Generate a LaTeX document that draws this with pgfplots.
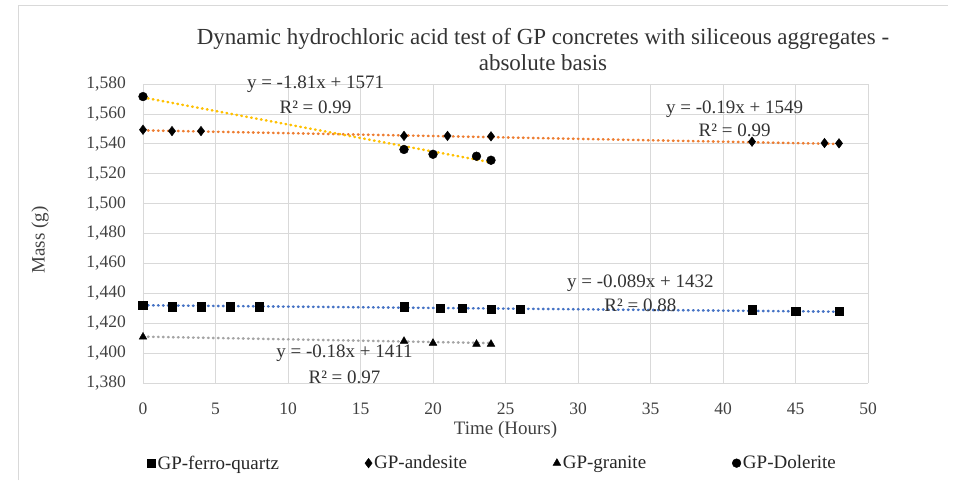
\documentclass[border=0pt]{standalone}
\usepackage{pgfplots}
\pgfplotsset{compat=1.18}
\usepackage{fontspec}
\setmainfont{Liberation Serif}
\definecolor{tblue}{HTML}{4472C4}
\definecolor{torange}{HTML}{ED7D31}
\definecolor{tgray}{HTML}{A5A5A5}
\definecolor{tgold}{HTML}{FFC000}
\definecolor{gridc}{HTML}{D9D9D9}
\begin{document}
\begin{tikzpicture}
\path[use as bounding box] (-143pt,-97pt) rectangle (830pt,383pt);
\draw[gridc, line width=0.8pt] (-125pt,-97pt) -- (-125pt,378pt) -- (805pt,378pt);
\node[anchor=base, font=\fontsize{23}{26}\selectfont, text=black!80, inner sep=0pt] at (400pt,338pt) {Dynamic hydrochloric acid test of GP concretes with siliceous aggregates -};
\node[anchor=base, font=\fontsize{23}{26}\selectfont, text=black!80, inner sep=0pt] at (400pt,312pt) {absolute basis};
\begin{axis}[
  at={(0pt,0pt)}, anchor=south west,
  scale only axis, width=725pt, height=299pt,
  xmin=0, xmax=50, ymin=1380, ymax=1580,
  xtick={0,5,...,50}, ytick={1380,1400,...,1580},
  grid=major, major grid style={gridc, line width=0.7pt},
  axis line style={draw=none}, tick style={draw=none},
  /pgf/number format/assume math mode=true,
  /pgf/number format/.cd, 1000 sep={,}, /pgfplots/.cd,
  tick label style={font=\fontsize{17.5}{20}\selectfont, text=black!75},
  xticklabel style={anchor=base, yshift=-31pt},
  yticklabel style={anchor=east, inner sep=0pt, xshift=-17pt},
  xlabel={Time (Hours)}, ylabel={Mass (g)},
  label style={font=\fontsize{19}{22}\selectfont, text=black!75},
  xlabel style={at={(axis description cs:0.5,-0.157)}, anchor=center},
  ylabel style={at={(axis description cs:-0.142,0.478)}, anchor=center},
  clip=false,
  legend style={at={(0.482,-0.268)}, anchor=center, draw=none, fill=none,
    legend columns=4, font=\fontsize{19}{22}\selectfont, text=black!85,
    /tikz/every even column/.append style={column sep=84pt}},
  legend cell align=left,
  legend image code/.code={\draw[#1] plot coordinates {(0pt,0pt)};},
]
% data
\addplot[only marks, mark=square*, mark size=4.3pt, black] coordinates {
 (0,1432) (2,1431) (4,1431) (6,1431) (8,1431) (18,1431) (20.5,1430) (22,1430) (24,1429.5) (26,1429.5) (42,1429) (45,1428) (48,1428)};
\addlegendentry{GP-ferro-quartz}
\addplot[only marks, mark=diamond*, mark size=4.8pt, black] coordinates {
 (0,1549.4) (2,1548.5) (4,1548.5) (18,1545.3) (21,1545.3) (24,1545) (42,1541.4) (47,1540.5) (48,1540.3)};
\addlegendentry{GP-andesite}
\addplot[only marks, mark=triangle*, mark size=4.5pt, black] coordinates {
 (0,1410.8) (18,1408) (20,1406.7) (23,1406) (24,1406)};
\addlegendentry{GP-granite}
\addplot[only marks, mark=*, mark size=4.4pt, black] coordinates {
 (0,1571.6) (18,1536.2) (20,1533) (23,1531.7) (24,1529)};
\addlegendentry{GP-Dolerite}
% trendlines
\addplot[tblue, line width=2.6pt, line cap=round, dash pattern=on 0.6pt off 4.4pt, forget plot] coordinates {(0,1432) (48,1427.7)};
\addplot[torange, line width=2.6pt, line cap=round, dash pattern=on 0.6pt off 4.4pt, forget plot] coordinates {(0,1549) (48,1539.9)};
\addplot[tgray, line width=2.6pt, line cap=round, dash pattern=on 0.6pt off 4.4pt, forget plot] coordinates {(0,1411) (24,1406.7)};
\addplot[tgold, line width=2.6pt, line cap=round, dash pattern=on 0.6pt off 4.4pt, forget plot] coordinates {(0,1571) (24,1527.6)};
% labels
\tikzset{eq/.style={font=\fontsize{19}{22}\selectfont, text=black!80, align=center, inner sep=0pt}}
\node[eq] at (axis cs:11.9,1579.7) {y = -1.81x + 1571};
\node[eq] at (axis cs:11.9,1564.2) {R² = 0.99};
\node[eq] at (axis cs:40.8,1562.8) {y = -0.19x + 1549};
\node[eq] at (axis cs:40.8,1548.7) {R² = 0.99};
\node[eq] at (axis cs:34.3,1446.7) {y = -0.089x + 1432};
\node[eq] at (axis cs:34.3,1432.2) {R² = 0.88};
\node[eq] at (axis cs:13.9,1399.9) {y = -0.18x + 1411};
\node[eq] at (axis cs:13.9,1384) {R² = 0.97};
\end{axis}
\end{tikzpicture}
\end{document}
